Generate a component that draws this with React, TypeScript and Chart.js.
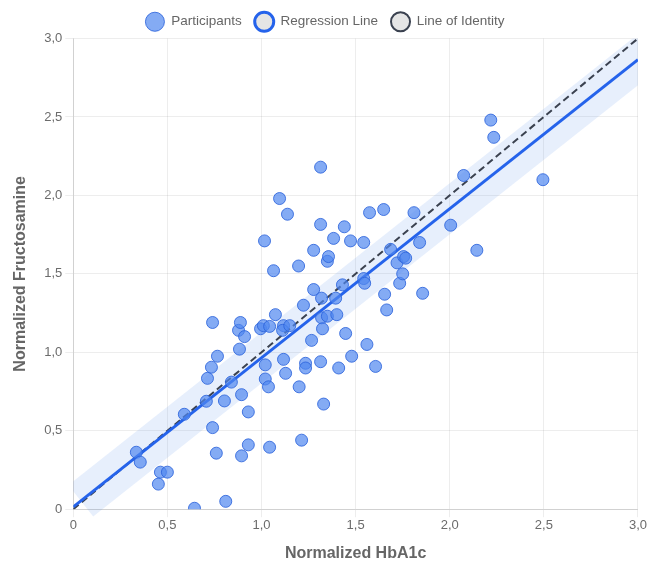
import React, { useEffect, useRef } from "react";
import { Chart, registerables } from "chart.js";

Chart.register(...registerables);

// Participants (Normalized HbA1c, Normalized Fructosamine)
const hba1c = [
  0.335, 0.356, 0.463, 0.5, 0.452, 0.644, 0.59, 0.707, 0.74, 0.713,
  0.734, 0.766, 0.74, 0.76, 0.81, 0.803, 0.84, 0.878, 0.888, 0.91,
  0.883, 0.894, 0.93, 0.93, 0.894, 0.995, 1.01, 1.016, 1.02, 1.02,
  1.037, 1.043, 1.043, 1.064, 1.074, 1.096, 1.117, 1.112, 1.117, 1.128,
  1.138, 1.15, 1.197, 1.2, 1.213, 1.223, 1.234, 1.234, 1.266, 1.277,
  1.277, 1.314, 1.314, 1.319, 1.319, 1.314, 1.324, 1.33, 1.35, 1.356,
  1.35, 1.383, 1.394, 1.4, 1.41, 1.43, 1.44, 1.447, 1.473, 1.479,
  1.543, 1.543, 1.548, 1.56, 1.574, 1.606, 1.649, 1.654, 1.665, 1.686,
  1.72, 1.734, 1.75, 1.755, 1.766, 1.81, 1.84, 1.856, 2.005, 2.074,
  2.144, 2.218, 2.234, 2.495,
];
const fructosamine = [
  0.363, 0.3, 0.236, 0.236, 0.16, 0.006, 0.605, 0.688, 1.19, 0.834,
  0.905, 0.975, 0.52, 0.357, 0.05, 0.69, 0.81, 1.14, 1.19, 1.1,
  1.02, 0.73, 0.62, 0.41, 0.34, 1.15, 1.17, 1.71, 0.83, 0.92,
  0.78, 1.165, 0.395, 1.52, 1.24, 1.98, 1.17, 1.14, 0.955, 0.866,
  1.88, 1.17, 1.55, 0.78, 0.44, 1.3, 0.93, 0.9, 1.076, 1.4,
  1.65, 2.18, 1.815, 1.345, 1.22, 0.94, 1.15, 0.67, 1.58, 1.61,
  1.23, 1.726, 1.345, 1.24, 0.9, 1.43, 1.8, 1.12, 1.71, 0.975,
  1.7, 1.47, 1.44, 1.05, 1.89, 0.91, 1.91, 1.37, 1.27, 1.656,
  1.57, 1.44, 1.5, 1.61, 1.6, 1.89, 1.7, 1.376, 1.81, 2.127,
  1.65, 2.48, 2.37, 2.1,
];

// Regression line end points
const regX = [0, 3];
const regY = [0.015, 2.865];

// Line of identity
const idX = [0, 3];
const idY = [0, 3];

// Confidence band centre line
const bandX = [0.04, 3.1];
const bandY = [0.053, 2.96];

const tickValues = [0, 0.5, 1, 1.5, 2, 2.5, 3];

const fmt = (v: number) => (v === 0 ? "0" : v.toFixed(1).replace(".", ","));

export default function App() {
  const ref = useRef<HTMLCanvasElement | null>(null);

  useEffect(() => {
    document.body.style.margin = "0";
    const canvas = ref.current;
    if (!canvas) return;
    Chart.defaults.font.family = "'Liberation Sans', Arial, sans-serif";
    const toPts = (xs: number[], ys: number[]) => xs.map((x, i) => ({ x, y: ys[i] }));

    const chart = new Chart(canvas, {
      type: "scatter",
      data: {
        datasets: [
          {
            label: "Participants",
            data: toPts(hba1c, fructosamine),
            backgroundColor: "rgba(80,135,240,0.7)",
            borderColor: "rgba(45,100,220,0.85)",
            borderWidth: 1,
            pointRadius: 6,
            pointHoverRadius: 6,
          },
          {
            label: "Regression Line",
            data: toPts(regX, regY),
            showLine: true,
            borderColor: "#2563eb",
            borderWidth: 3,
            pointRadius: 0,
            pointHoverRadius: 0,
          },
          {
            label: "Line of Identity",
            data: toPts(idX, idY),
            showLine: true,
            borderColor: "#3b4250",
            borderWidth: 2,
            borderDash: [7, 4],
            pointRadius: 0,
            pointHoverRadius: 0,
          },
          {
            label: "band",
            data: toPts(bandX, bandY),
            showLine: true,
            borderColor: "rgba(60,120,230,0.12)",
            borderWidth: 40,
            borderCapStyle: "butt",
            pointRadius: 0,
            pointHoverRadius: 0,
            clip: { left: 0, top: 0, right: 0, bottom: 20 },
          } as any,
        ],
      },
      options: {
        responsive: false,
        animation: false,
        layout: { padding: { top: 2, left: 3, right: 0, bottom: 0 } },
        plugins: {
          tooltip: { enabled: false },
          legend: {
            position: "top",
            labels: {
              usePointStyle: true,
              pointStyleWidth: 19,
              color: "#666",
              font: { size: 13.5 },
              padding: 13,
              generateLabels: (ch: any) => {
                const items = Chart.defaults.plugins.legend.labels.generateLabels(ch);
                return items
                  .filter((it: any) => it.text !== "band")
                  .map((it: any) => ({ ...it, lineDash: [], pointStyle: "circle" }));
              },
            },
          },
        },
        scales: {
          x: {
            type: "linear",
            min: 0,
            max: 3,
            afterBuildTicks: (s: any) => {
              s.ticks = tickValues.map((v) => ({ value: v }));
            },
            ticks: {
              callback: (v: any) => fmt(Number(v)),
              color: "#6b6b6b",
              font: { size: 13 },
              padding: 0,
            },
            grid: { color: "rgba(0,0,0,0.07)", tickLength: 8 },
            border: { color: "rgba(0,0,0,0.12)" },
            title: {
              display: true,
              text: "Normalized HbA1c",
              color: "#666",
              font: { size: 16, weight: "bold" },
              padding: { top: 11, bottom: 2 },
            },
          },
          y: {
            type: "linear",
            min: 0,
            max: 3,
            afterBuildTicks: (s: any) => {
              s.ticks = tickValues.map((v) => ({ value: v }));
            },
            ticks: {
              callback: (v: any) => fmt(Number(v)),
              color: "#6b6b6b",
              font: { size: 13 },
              padding: 3,
            },
            grid: { color: "rgba(0,0,0,0.07)", tickLength: 8 },
            border: { color: "rgba(0,0,0,0.12)" },
            title: {
              display: true,
              text: "Normalized Fructosamine",
              color: "#666",
              font: { size: 16, weight: "bold" },
              padding: { top: 8, bottom: 11 },
            },
          },
        },
      },
    });
    return () => chart.destroy();
  }, []);

  return (
    <div style={{ width: 647, height: 565, overflow: "hidden", position: "relative" }}>
      <canvas ref={ref} width={647} height={565} style={{ display: "block" }} />
    </div>
  );
}
